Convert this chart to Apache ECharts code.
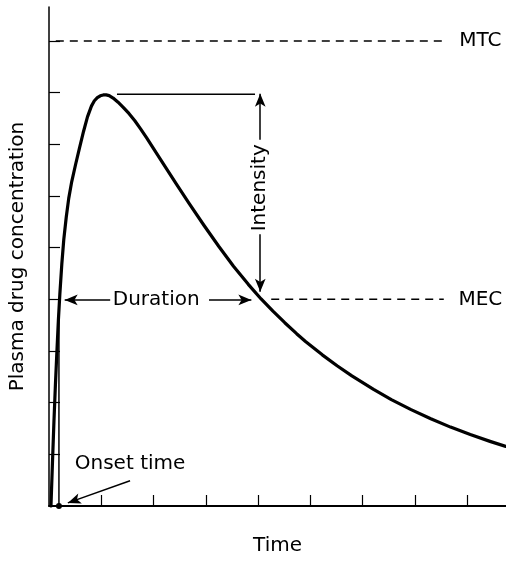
<!DOCTYPE html>
<html><head><meta charset="utf-8">
<script src="https://cdn.jsdelivr.net/npm/echarts@6/dist/echarts.min.js"></script>
<style>html,body{margin:0;padding:0;background:#fff}#c{width:506px;height:561px}</style>
</head><body><div id="c"></div>
<script>
// Curve: plasma drug concentration vs time (arbitrary units)
const timeValues = [0.0377, 0.0660, 0.0943, 0.1226, 0.1509, 0.1792, 0.2075, 0.2453, 0.2830, 0.3302, 0.3774, 0.4340, 0.5094, 0.5849, 0.6604, 0.7358, 0.8113, 0.8679, 0.9245, 0.9811, 1.0377, 1.0943, 1.1509, 1.2264, 1.3208, 1.4151, 1.5283, 1.6415, 1.7547, 1.8679, 1.9811, 2.1132, 2.2642, 2.4340, 2.6792, 2.9623, 3.2453, 3.5283, 3.8113, 4.0566, 4.2830, 4.5094, 4.7358, 4.9057, 5.2264, 5.5094, 5.7925, 6.2075, 6.5472, 6.9245, 7.3019, 7.6792, 8.0566, 8.4340, 8.7358];
const concValues = [0, 0.832, 1.626, 2.344, 2.987, 3.592, 4.102, 4.688, 5.161, 5.595, 5.955, 6.276, 6.616, 6.938, 7.250, 7.533, 7.741, 7.845, 7.905, 7.941, 7.957, 7.958, 7.945, 7.898, 7.817, 7.722, 7.599, 7.457, 7.297, 7.127, 6.947, 6.739, 6.503, 6.238, 5.860, 5.435, 5.028, 4.641, 4.291, 4.008, 3.771, 3.548, 3.336, 3.185, 2.926, 2.715, 2.518, 2.257, 2.060, 1.866, 1.688, 1.527, 1.382, 1.251, 1.153];
const tickValuesX = [1, 2, 3, 4, 5, 6, 7, 8];
const tickValuesY = [1, 2, 3, 4, 5, 6, 7, 8, 9];
const axisMaxX = 8.74, axisMaxY = 9.66;
// Reference levels
const mtcLevel = 9, mecLevel = 4, peakLevel = 7.97;
const mtcSpan = [0.13, 7.55];
const mecSpan = [4.25, 7.55];
const peakSpan = [1.30, 3.94];
// Annotation arrows: [fromX, fromY, tipX, tipY]
const arrowIntensityUp = [4.04, 7.09, 4.04, 7.98];
const arrowIntensityDown = [4.04, 5.26, 4.04, 4.15];
const arrowDurationLeft = [1.17, 3.99, 0.30, 3.99];
const arrowDurationRight = [3.06, 3.99, 3.87, 3.99];
const arrowOnset = [1.55, 0.49, 0.36, 0.06];
const onsetTime = 0.19;
// Text labels
const labelTexts = ['MTC', 'MEC', 'Duration', 'Onset time'];
const labelX = [8.25, 8.25, 2.05, 1.55];
const labelY = [9.0, 4.0, 3.99, 0.81];
const intensityLabel = ['Intensity', 4.04, 6.16];
const xName = 'Time', yName = 'Plasma drug concentration';

const FONT = 'DejaVu Sans';
const ink = '#000';
const chart = echarts.init(document.getElementById('c'), null, {renderer: 'canvas'});

function arrowItem(a) {
  return [
    {coord: [a[0], a[1]], symbol: 'none'},
    {coord: [a[2], a[3]], symbol: 'arrow', symbolSize: [8, 13]}
  ];
}
const labelStyle = {show: true, position: 'inside', formatter: '{b}', fontFamily: FONT, fontSize: 20, color: ink, opacity: 1, textBorderWidth: 0};

const option = {
  animation: false,
  backgroundColor: '#fff',
  grid: {left: 43, right: 0, top: 7, bottom: 43, containLabel: false},
  xAxis: {
    type: 'value', min: 0, max: axisMaxX, interval: 1,
    axisLine: {show: true, lineStyle: {color: ink, width: 2}},
    axisTick: {show: true, inside: true, length: 11, customValues: tickValuesX, lineStyle: {color: ink, width: 1.2}},
    axisLabel: {show: false}, splitLine: {show: false},
    name: xName, nameLocation: 'middle', nameGap: 30,
    nameTextStyle: {fontFamily: FONT, fontSize: 20, color: ink}
  },
  yAxis: {
    type: 'value', min: 0, max: axisMaxY, interval: 1,
    axisLine: {show: true, lineStyle: {color: ink, width: 1.5}},
    axisTick: {show: true, inside: true, length: 11, customValues: tickValuesY, lineStyle: {color: ink, width: 1.2}},
    axisLabel: {show: false}, splitLine: {show: false},
    name: yName, nameLocation: 'middle', nameGap: 21, nameRotate: 90,
    nameTextStyle: {fontFamily: FONT, fontSize: 20, color: ink}
  },
  series: [
    {
      type: 'line', name: 'curve', clip: false,
      data: timeValues.map((t, i) => [t, concValues[i]]),
      showSymbol: false, symbol: 'none', smooth: false,
      lineStyle: {color: ink, width: 3.2, join: 'round', cap: 'round'}
    },
    {
      type: 'line', symbol: 'none', clip: false,
      data: [[mtcSpan[0], mtcLevel], [mtcSpan[1], mtcLevel]],
      lineStyle: {color: ink, width: 1.5, type: [8, 6]}
    },
    {
      type: 'line', symbol: 'none', clip: false,
      data: [[mecSpan[0], mecLevel], [mecSpan[1], mecLevel]],
      lineStyle: {color: ink, width: 1.5, type: [8, 6]}
    },
    {
      type: 'line', symbol: 'none', clip: false,
      data: [[peakSpan[0], peakLevel], [peakSpan[1], peakLevel]],
      lineStyle: {color: ink, width: 1.5}
    },
    {
      type: 'line', symbol: 'none', clip: false,
      data: [[onsetTime, 0], [onsetTime, mecLevel]],
      lineStyle: {color: ink, width: 1.5},
      markLine: {
        silent: true, animation: false, precision: 4,
        label: {show: false},
        lineStyle: {color: ink, width: 1.5, type: 'solid'},
        data: [arrowIntensityUp, arrowIntensityDown, arrowDurationLeft, arrowDurationRight, arrowOnset].map(arrowItem)
      }
    },
    {
      type: 'scatter', clip: false, symbol: 'circle', symbolSize: 6,
      itemStyle: {color: ink, opacity: 1},
      data: [[onsetTime, 0]]
    },
    {
      type: 'scatter', clip: false, symbolSize: 0, silent: true,
      itemStyle: {opacity: 1},
      label: labelStyle,
      data: labelTexts.map((s, i) => ({name: s, value: [labelX[i], labelY[i]]}))
    },
    {
      type: 'scatter', clip: false, symbolSize: 0, silent: true,
      itemStyle: {opacity: 1},
      label: Object.assign({}, labelStyle, {rotate: 90}),
      data: [{name: intensityLabel[0], value: [intensityLabel[1], intensityLabel[2]]}]
    }
  ]
};
chart.setOption(option);
</script>
</body></html>
